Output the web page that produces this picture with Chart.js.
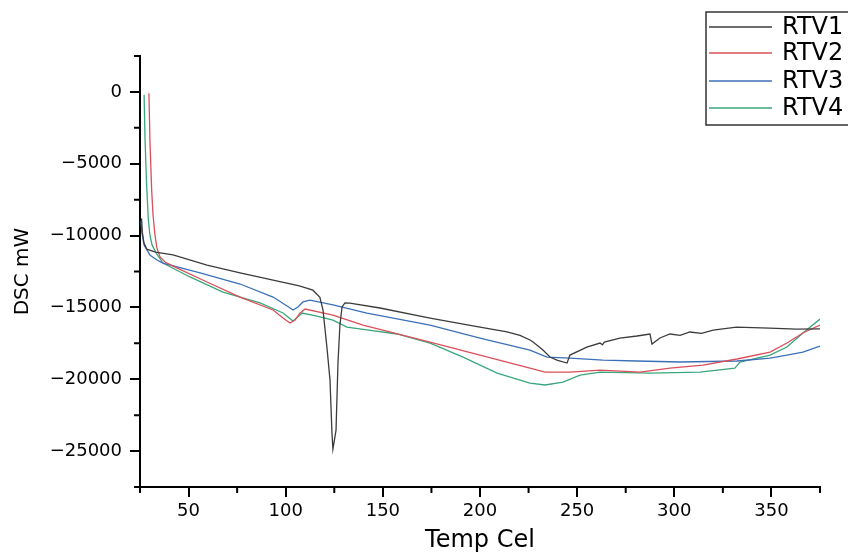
<!DOCTYPE html>
<html>
<head>
<meta charset="utf-8">
<script src="https://cdn.jsdelivr.net/npm/chart.js"></script>
<style>
  html, body { margin: 0; padding: 0; background: #fff; }
  .wrap { width: 848px; height: 553px; position: relative; }
</style>
</head>
<body>
<div class="wrap"><canvas id="chart" width="848" height="553"></canvas></div>
<script>
  // DSC curves (temperature in Cel, DSC in mW)
  const seriesNames = ['RTV1', 'RTV2', 'RTV3', 'RTV4'];
  const seriesColors = ['#3c3c3c', '#d9505a', '#3b70b8', '#3aa67c'];

  const rtv1Temp = [25.8, 26.2, 27, 28.5, 33, 42, 59.5, 76.5, 93.5, 107, 114, 117.6, 119.2, 121.2, 122.8, 123.8, 124.3, 125.9, 126.9, 127.9, 129, 130.5, 133, 148.5, 174.3, 200, 213.9, 220.6, 225.7, 227.3, 232.4, 236, 239.6, 244.8, 246.3, 255, 261.8, 263, 264, 272, 280.8, 287.5, 288.5, 292.6, 297.8, 303, 308, 314, 320, 332, 349, 363, 375];
  const rtv1Dsc = [-8800, -9750, -10500, -10950, -11150, -11350, -12050, -12600, -13100, -13500, -13800, -14300, -15180, -17760, -20060, -23750, -24860, -23540, -18870, -16230, -14970, -14690, -14700, -15040, -15740, -16365, -16710, -16950, -17270, -17410, -17970, -18455, -18665, -18870, -18315, -17760, -17480, -17600, -17420, -17130, -16990, -16850, -17550, -17130, -16850, -16950, -16710, -16800, -16575, -16365, -16435, -16505, -16500];

  const rtv2Temp = [29.6, 30.1, 31, 31.7, 32.7, 33.7, 35.3, 37.9, 42, 59.5, 76.5, 93.5, 98.6, 102.2, 104.8, 107.4, 110, 124.3, 139.8, 174.3, 200, 225.7, 233.5, 246.3, 261.8, 282.4, 297.8, 314.8, 332.3, 349.3, 358, 366.2, 375];
  const rtv2Dsc = [-100, -3340, -6820, -8570, -9960, -10860, -11490, -11840, -12120, -13230, -14280, -15180, -15740, -16090, -15880, -15390, -15110, -15530, -16230, -17410, -18320, -19220, -19500, -19500, -19360, -19500, -19220, -19010, -18590, -18110, -17480, -16780, -16230];

  const rtv3Temp = [25.5, 26, 27.1, 30.1, 33.7, 36.8, 55.9, 76.5, 93.5, 100.7, 103.8, 106.3, 108.9, 112.5, 124.3, 141.8, 174.3, 200, 225.7, 234.5, 246.3, 263.3, 280.8, 303, 332.3, 349.3, 358, 366.2, 375];
  const rtv3Dsc = [-9000, -9820, -10650, -11350, -11700, -11910, -12600, -13370, -14280, -14900, -15180, -14970, -14620, -14490, -14830, -15390, -16230, -17130, -17970, -18455, -18525, -18665, -18730, -18800, -18730, -18525, -18320, -18110, -17690];

  const rtv4Temp = [27.1, 27.6, 28.4, 29.3, 30.1, 31.2, 33.6, 36.8, 50.7, 67.7, 86.8, 98.6, 103.8, 108.4, 116.1, 124.3, 131.5, 141.8, 157.3, 174.3, 191.3, 208.8, 225.7, 233.5, 242.7, 251.5, 261.8, 287.5, 313.2, 331.2, 333.8, 349.3, 358, 366.2, 375];
  const rtv4Dsc = [-200, -3340, -6480, -8910, -9960, -10650, -11280, -11910, -12880, -13930, -14690, -15390, -15950, -15390, -15600, -15880, -16370, -16570, -16850, -17480, -18455, -19570, -20270, -20400, -20200, -19710, -19500, -19570, -19500, -19220, -18800, -18320, -17760, -16780, -15810];

  const xTicks = [50, 100, 150, 200, 250, 300, 350];
  const yTicks = [0, -5000, -10000, -15000, -20000, -25000];

  const temps = [rtv1Temp, rtv2Temp, rtv3Temp, rtv4Temp];
  const values = [rtv1Dsc, rtv2Dsc, rtv3Dsc, rtv4Dsc];

  const FONT = 'DejaVu Sans';

  // half-length ticks between the labelled ones
  const minorTicks = {
    id: 'minorTicks',
    afterDraw(chart) {
      const ctx = chart.ctx;
      const xs = chart.scales.x, ys = chart.scales.y;
      ctx.save();
      ctx.strokeStyle = '#000';
      ctx.lineWidth = 2;
      ctx.beginPath();
      for (let v = 25; v <= 375; v += 50) {
        const px = xs.getPixelForValue(v);
        ctx.moveTo(px, ys.bottom);
        ctx.lineTo(px, ys.bottom + 6);
      }
      for (let v = -27500; v <= 2500; v += 5000) {
        const py = ys.getPixelForValue(v);
        ctx.moveTo(xs.left, py);
        ctx.lineTo(xs.left - 6, py);
      }
      ctx.stroke();
      ctx.restore();
    }
  };

  // boxed legend in the top right corner, partly running off the edge
  const boxLegend = {
    id: 'boxLegend',
    afterDraw(chart) {
      const ctx = chart.ctx;
      ctx.save();
      ctx.strokeStyle = '#333';
      ctx.lineWidth = 1.5;
      ctx.strokeRect(706, 12, 200, 113);
      ctx.font = '24px "' + FONT + '"';
      ctx.textBaseline = 'middle';
      ctx.fillStyle = '#000';
      const rows = [27, 53, 81, 108];
      chart.data.datasets.forEach((ds, i) => {
        ctx.strokeStyle = ds.borderColor;
        ctx.lineWidth = 1.3;
        ctx.beginPath();
        ctx.moveTo(709, rows[i]);
        ctx.lineTo(772, rows[i]);
        ctx.stroke();
        ctx.fillText(ds.label, 782, rows[i] + 1);
      });
      ctx.restore();
    }
  };

  const ctx = document.getElementById('chart').getContext('2d');
  const dscChart = new Chart(ctx, {
    type: 'line',
    data: {
      datasets: seriesNames.map((name, i) => ({
        label: name,
        data: temps[i].map((t, j) => ({ x: t, y: values[i][j] })),
        borderColor: seriesColors[i],
        borderWidth: 1.3,
        pointRadius: 0,
        tension: 0,
        fill: false
      }))
    },
    options: {
      responsive: false,
      animation: false,
      layout: { padding: { top: 56, right: 28, left: 0, bottom: 0 } },
      plugins: {
        legend: { display: false },
        tooltip: { enabled: false }
      },
      scales: {
        x: {
          type: 'linear',
          min: 25,
          max: 375,
          afterFit(s) { s.height = 66; },
          afterBuildTicks(s) { s.ticks = xTicks.map(v => ({ value: v })); },
          border: { display: true, color: '#000', width: 2 },
          grid: { drawOnChartArea: false, drawTicks: true, tickLength: 10, color: '#000', lineWidth: 2 },
          ticks: {
            color: '#000',
            padding: 4,
            maxRotation: 0,
            font: { family: FONT, size: 18 }
          },
          title: {
            display: true,
            text: 'Temp Cel',
            color: '#000',
            padding: { top: 0, bottom: 0 },
            font: { family: FONT, size: 24, lineHeight: 1 }
          }
        },
        y: {
          min: -27500,
          max: 2500,
          afterFit(s) { s.width = 140; },
          afterBuildTicks(s) { s.ticks = yTicks.slice().reverse().map(v => ({ value: v })); },
          border: { display: true, color: '#000', width: 2 },
          grid: { drawOnChartArea: false, drawTicks: true, tickLength: 10, color: '#000', lineWidth: 2 },
          ticks: {
            color: '#000',
            padding: 8,
            font: { family: FONT, size: 18 },
            callback: v => String(v).replace('-', '\u2212')
          },
          title: {
            display: true,
            text: 'DSC mW',
            color: '#000',
            padding: { top: 13, bottom: 0 },
            font: { family: FONT, size: 20, lineHeight: 1 }
          }
        }
      }
    },
    plugins: [minorTicks, boxLegend]
  });
</script>
</body>
</html>
